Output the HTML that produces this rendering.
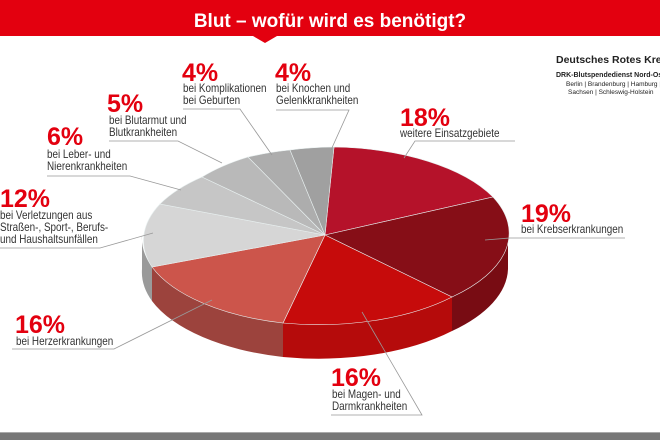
<!DOCTYPE html>
<html><head><meta charset="utf-8"><style>
html,body{margin:0;padding:0;background:#fff;}
svg{display:block;font-family:"Liberation Sans",sans-serif;}
.p{fill:#e3000f;font-weight:bold;font-size:25px;}
.t{fill:#333;font-size:11.5px;}
.l{stroke:#999;stroke-width:0.8;fill:none;}
</style></head><body>
<svg width="660" height="440" viewBox="0 0 660 440">
<rect x="0" y="0" width="660" height="36" fill="#e3000f"/>
<polygon points="253,36 277,36 265,43" fill="#e3000f"/>
<text x="330" y="27" text-anchor="middle" fill="#fff" font-weight="bold" font-size="19">Blut – wofür wird es benötigt?</text>
<rect x="0" y="433" width="660" height="7" fill="#777"/>
<rect x="0" y="432" width="660" height="1" fill="#aaa"/>

<text x="556" y="63" font-weight="bold" font-size="10.5" fill="#222">Deutsches Rotes Kreuz</text>
<text x="556" y="77" font-weight="bold" font-size="7" fill="#222">DRK-Blutspendedienst Nord-Ost</text>
<text x="566" y="86" font-size="6.5" fill="#222">Berlin | Brandenburg | Hamburg |</text>
<text x="568" y="94" font-size="6.5" fill="#222">Sachsen | Schleswig-Holstein</text>

<path d="M142,235 A183,88 0 0 0 152,267 L152,301 A183,88 0 0 1 142,269 Z" fill="#9a9a9a"/>
<path d="M152,267 A183,88 0 0 0 283,323 L283,357 A183,88 0 0 1 152,301 Z" fill="#9c433d"/>
<path d="M283,323 A183,88 0 0 0 452,297 L452,331 A183,88 0 0 1 283,357 Z" fill="#b50b0b"/>
<path d="M452,297 A183,88 0 0 0 508,235 L508,269 A183,88 0 0 1 452,331 Z" fill="#780c13"/>
<g stroke="#e8f0f0" stroke-width="0.6">
<path d="M325,235 L334,147 A183,88 0 0 1 493,197 Z" fill="#b5122a"/>
<path d="M325,235 L493,197 A183,88 0 0 1 452,297 Z" fill="#860e17"/>
<path d="M325,235 L452,297 A183,88 0 0 1 283,323 Z" fill="#c60b0b"/>
<path d="M325,235 L283,323 A183,88 0 0 1 152,267 Z" fill="#cc554b"/>
<path d="M325,235 L152,267 A183,88 0 0 1 160,204 Z" fill="#d6d6d6"/>
<path d="M325,235 L160,204 A183,88 0 0 1 202,177 Z" fill="#c6c6c6"/>
<path d="M325,235 L202,177 A183,88 0 0 1 248,157 Z" fill="#b9b9b9"/>
<path d="M325,235 L248,157 A183,88 0 0 1 290,150 Z" fill="#adadad"/>
<path d="M325,235 L290,150 A183,88 0 0 1 334,147 Z" fill="#a0a0a0"/>
</g>

<g>
<text class="p" x="182" y="81">4%</text>
<text class="t" transform="translate(183,92) scale(.86,1)">bei Komplikationen</text>
<text class="t" transform="translate(183,104) scale(.86,1)">bei Geburten</text>
<polyline class="l" points="183,109 240,109 272,155"/>

<text class="p" x="275" y="81">4%</text>
<text class="t" transform="translate(276,92) scale(.86,1)">bei Knochen und</text>
<text class="t" transform="translate(276,104) scale(.86,1)">Gelenkkrankheiten</text>
<polyline class="l" points="276,110 349,110 331,150"/>

<text class="p" x="107" y="112">5%</text>
<text class="t" transform="translate(109,124) scale(.86,1)">bei Blutarmut und</text>
<text class="t" transform="translate(109,136) scale(.86,1)">Blutkrankheiten</text>
<polyline class="l" points="109,141 178,141 222,163"/>

<text class="p" x="47" y="145">6%</text>
<text class="t" transform="translate(47,158) scale(.86,1)">bei Leber- und</text>
<text class="t" transform="translate(47,170) scale(.86,1)">Nierenkrankheiten</text>
<polyline class="l" points="47,176 130,176 181,190"/>

<text class="p" x="0" y="207">12%</text>
<text class="t" transform="translate(0,219) scale(.86,1)">bei Verletzungen aus</text>
<text class="t" transform="translate(0,231) scale(.86,1)">Straßen-, Sport-, Berufs-</text>
<text class="t" transform="translate(0,243) scale(.86,1)">und Haushaltsunfällen</text>
<polyline class="l" points="0,248 100,248 153,233"/>

<text class="p" x="400" y="126">18%</text>
<text class="t" transform="translate(400,137) scale(.86,1)">weitere Einsatzgebiete</text>
<polyline class="l" points="515,141 415,141 404,158"/>

<text class="p" x="521" y="222">19%</text>
<text class="t" transform="translate(521,233) scale(.86,1)">bei Krebserkrankungen</text>
<polyline class="l" points="485,240 510,238 625,238"/>

<text class="p" x="15" y="333">16%</text>
<text class="t" transform="translate(16,345) scale(.86,1)">bei Herzerkrankungen</text>
<polyline class="l" points="12,349 114,349 212,300"/>

<text class="p" x="331" y="386">16%</text>
<text class="t" transform="translate(332,398) scale(.86,1)">bei Magen- und</text>
<text class="t" transform="translate(332,410) scale(.86,1)">Darmkrankheiten</text>
<polyline class="l" points="331,415 422,415 362,312"/>
</g>
</svg>
</body></html>
